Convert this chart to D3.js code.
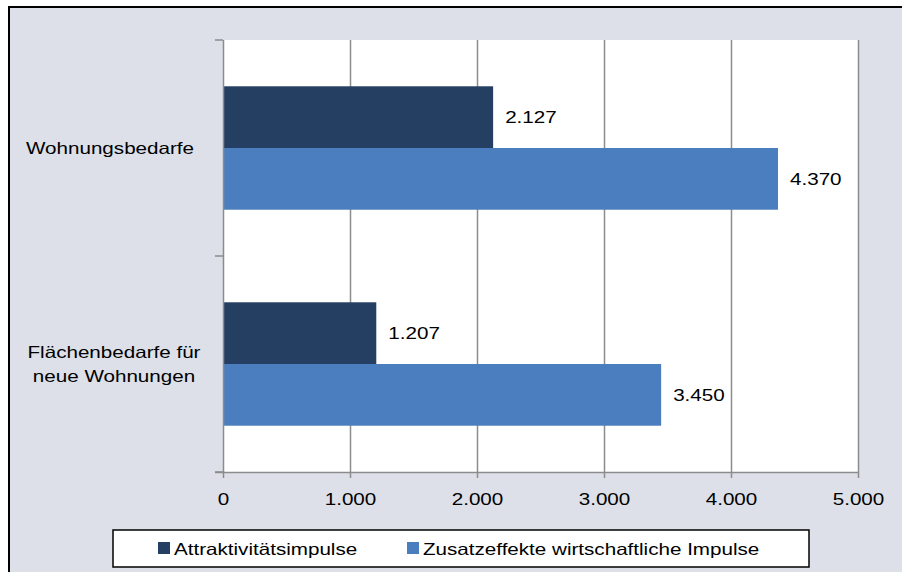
<!DOCTYPE html>
<html><head><meta charset="utf-8">
<script src="https://cdn.jsdelivr.net/npm/d3@7/dist/d3.min.js"></script>
<style>
html,body{margin:0;padding:0;background:#fff;}
svg{display:block;}
text{font-family:"Liberation Sans",Arial,sans-serif;fill:#000;}
</style></head>
<body>
<svg id="chart" width="902" height="572"></svg>
<script>
const categories = ["Wohnungsbedarfe", "Flächenbedarfe für\nneue Wohnungen"];
const seriesNames = ["Attraktivitätsimpulse", "Zusatzeffekte wirtschaftliche Impulse"];
const attraktivitaet = [2127, 1207];
const zusatzeffekte = [4370, 3450];
const xTicks = [0, 1000, 2000, 3000, 4000, 5000];
const colors = ["#243f62", "#4a7ebf"];

(function () {
const seriesValues = [attraktivitaet, zusatzeffekte];
const de = d3.formatLocale({decimal: ",", thousands: ".", grouping: [3], currency: ["", " €"]});
const fmt = de.format(",.0f");
const SX = 1.25, FS = 16.5;

const svg = d3.select("#chart");
// outer frame
svg.append("rect").attr("x", 9).attr("y", 7).attr("width", 902).attr("height", 580)
  .attr("fill", "#dde0e8").attr("stroke", "#000").attr("stroke-width", 2);

const pL = 223, pR = 858, pT = 40, pB = 472;
const x = d3.scaleLinear().domain([0, 5000]).range([pL, pR]);
const y = d3.scaleBand().domain(categories).range([pT, pB]).padding(0);
const yi = d3.scaleBand().domain(seriesNames).range([0, y.bandwidth()]).paddingInner(0).paddingOuter(0.75);

// plot area
svg.append("rect").attr("x", pL).attr("y", pT).attr("width", pR - pL).attr("height", pB - pT).attr("fill", "#fff");

// grid
const grid = svg.append("g").attr("transform", `translate(0,${pB})`)
  .call(d3.axisBottom(x).tickValues(xTicks.slice(1)).tickSize(-(pB - pT)).tickFormat(""));
grid.select(".domain").remove();
grid.selectAll("line").attr("stroke", "#8c8c8c").attr("stroke-width", 1.5);

// bars
categories.forEach((c, ci) => {
  seriesNames.forEach((s, si) => {
    const v = seriesValues[si][ci];
    const y0 = y(c) + yi(s);
    svg.append("rect").attr("x", x(0)).attr("y", y0).attr("width", x(v) - x(0)).attr("height", yi.bandwidth())
      .attr("fill", colors[si]);
    svg.append("text").attr("transform", `translate(${x(v) + 12},${y0 + yi.bandwidth() / 2 + 6}) scale(${SX},1)`)
      .attr("font-size", FS).text(fmt(v));
  });
});

// x axis
const xa = svg.append("g").attr("transform", `translate(0,${pB})`)
  .call(d3.axisBottom(x).tickValues(xTicks).tickSize(6).tickPadding(0).tickFormat(fmt));
xa.select(".domain").attr("d", `M${pL - 8},0.5H${pR}`).attr("stroke", "#8c8c8c").attr("stroke-width", 1.5);
xa.selectAll(".tick line").attr("stroke", "#8c8c8c").attr("stroke-width", 1.5);
xa.selectAll(".tick text").attr("font-size", FS).attr("font-family", "Liberation Sans, Arial, sans-serif")
  .attr("fill", "#000").attr("y", 33).attr("dy", 0).attr("transform", `scale(${SX},1)`);

// y axis
const ya = svg.append("g").attr("transform", `translate(${pL},0)`)
  .call(d3.axisLeft(y).tickSize(0).tickFormat(""));
ya.select(".domain").attr("d", `M0.5,${pT}V${pB}`).attr("stroke", "#8c8c8c").attr("stroke-width", 1.5);
const bounds = [pT, y(categories[1]), pB];
ya.selectAll(".bnd").data(bounds).enter().append("line").attr("class", "bnd")
  .attr("x1", -8).attr("x2", 0).attr("y1", d => d).attr("y2", d => d)
  .attr("stroke", "#8c8c8c").attr("stroke-width", 1.5);

// category labels
categories.forEach((c, ci) => {
  const lines = c.split("\n");
  const cy = y(c) + y.bandwidth() / 2;
  const lh = 24;
  lines.forEach((ln, li) => {
    const by = cy + 6 + (li - (lines.length - 1) / 2) * lh;
    svg.append("text").attr("transform", `translate(${lines.length > 1 ? 114 : 110},${by}) scale(${SX},1)`)
      .attr("text-anchor", "middle").attr("font-size", FS).text(ln);
  });
});

// legend
svg.append("rect").attr("x", 113).attr("y", 530).attr("width", 696).attr("height", 37)
  .attr("fill", "#fff").attr("stroke", "#000").attr("stroke-width", 1.5);
const legX = [158, 407];
seriesNames.forEach((s, si) => {
  svg.append("rect").attr("x", legX[si]).attr("y", 542).attr("width", 12).attr("height", 12).attr("fill", colors[si]);
  svg.append("text").attr("transform", `translate(${legX[si] + 16},554.5) scale(${SX},1)`)
    .attr("font-size", FS).text(s);
});
})();
</script>
</body></html>
